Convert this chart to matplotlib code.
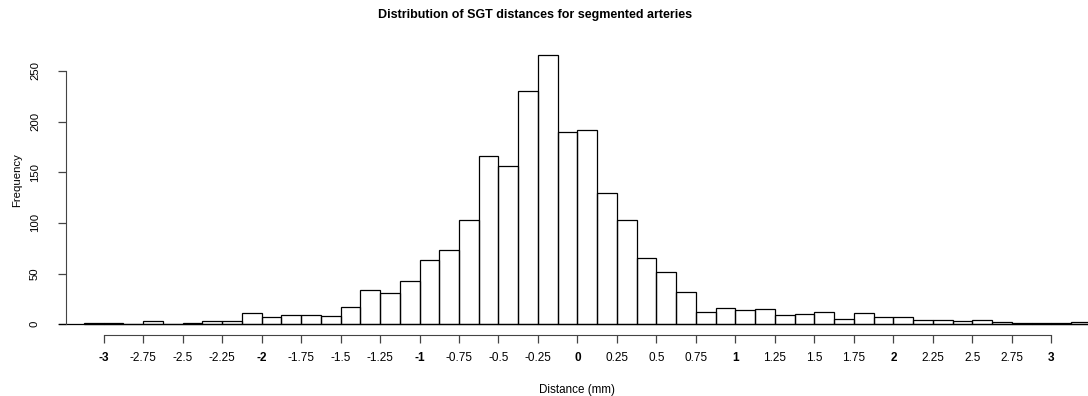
import matplotlib
matplotlib.use("Agg")

import numpy as np
import matplotlib.pyplot as plt

plt.rcParams['font.family'] = ['Liberation Sans', 'DejaVu Sans']

# histogram data (bin width 0.125)
bin_edges = np.arange(-3.125, 3.25 + 0.001, 0.125)
counts = [1, 1, 0, 3, 0, 1, 3, 3, 11, 7, 9, 9, 8, 17, 34, 31, 43, 63, 73,
          103, 166, 156, 230, 266, 190, 192, 130, 103, 65, 52, 32,
          12, 16, 14, 15, 9, 10, 12, 5, 11, 7, 7, 4, 4, 3, 4, 2, 1, 1, 1, 2]

x_ticks = np.arange(-3, 3.001, 0.25)
x_labels = ['-3', '-2.75', '-2.5', '-2.25', '-2', '-1.75', '-1.5', '-1.25', '-1',
            '-0.75', '-0.5', '-0.25', '0', '0.25', '0.5', '0.75', '1', '1.25',
            '1.5', '1.75', '2', '2.25', '2.5', '2.75', '3']
y_ticks = [0, 50, 100, 150, 200, 250]

W, H = 1088, 396
fig = plt.figure(figsize=(W / 100, H / 100), dpi=100)
ax = fig.add_axes([66 / W, (H - 335) / H, (W - 66) / W, (335 - 44) / H])

ax.bar(bin_edges[:-1], counts, width=0.125, align='edge', fill=False,
       edgecolor='black', linewidth=0.9)
# baseline under the bars
ax.plot([-3.285, 3.4], [0, 0], color='black', linewidth=0.9, clip_on=False)

ax.set_xlim(-3.238, 3.232)
ax.set_ylim(-10.64, 276.64)

for s in ['top', 'right']:
    ax.spines[s].set_visible(False)
ax.spines['left'].set_bounds(0, 250)
ax.spines['bottom'].set_bounds(-3, 3)
ax.spines['left'].set_color('#444444')
ax.spines['bottom'].set_color('#444444')

ax.set_xticks(x_ticks)
ax.set_xticklabels(x_labels)
for lab in ax.get_xticklabels():
    if '.' not in lab.get_text():
        lab.set_fontweight('bold')
ax.set_yticks(y_ticks)
ax.set_yticklabels([str(v) for v in y_ticks], rotation=90, va='center')

ax.tick_params(axis='x', length=5.8, width=0.9, color='#444444', labelsize=8.5, pad=6.3)
ax.tick_params(axis='y', length=5.8, width=0.9, color='#444444', labelsize=8.2, pad=13)

fig.text(535 / W, 1 - 15 / H, 'Distribution of SGT distances for segmented arteries',
         ha='center', va='center', fontsize=9.0, fontweight='bold')
fig.text(577 / W, 1 - 390 / H, 'Distance (mm)', ha='center', va='center', fontsize=8.4)
fig.text(17 / W, 1 - 180 / H, 'Frequency', ha='center', va='center', rotation=90,
         fontsize=8.2)

fig.savefig('out.png', dpi=100)
